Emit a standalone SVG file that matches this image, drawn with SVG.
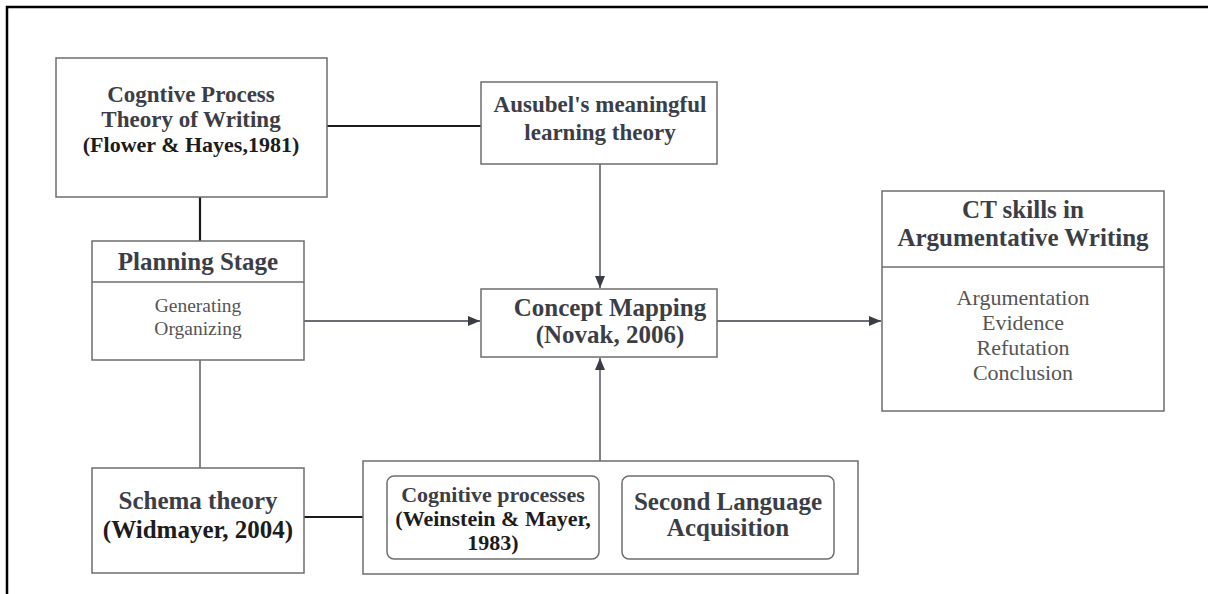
<svg xmlns="http://www.w3.org/2000/svg" width="1208" height="594" viewBox="0 0 1208 594">
<defs>
<style>
.box{fill:#fff;stroke:#6e6e6e;stroke-width:1.5}
.t{font-family:"Liberation Serif",serif;text-anchor:middle}
.h{font-weight:bold;fill:#3b3e46}
.k{font-weight:bold;fill:#1c1c1c}
.n{fill:#555}
.thick{stroke:#1a1a1a;stroke-width:2.2;fill:none}
.thin{stroke:#333;stroke-width:1.2;fill:none}
.arr{stroke:#3a3d45;stroke-width:1.3;fill:none;marker-end:url(#ah)}
</style>
<marker id="ah" viewBox="0 0 12 10" refX="12" refY="5" markerWidth="12" markerHeight="10" markerUnits="userSpaceOnUse" orient="auto">
<path d="M0,0 L12,5 L0,10 Z" fill="#3a3d45"/>
</marker>
</defs>
<rect width="1208" height="594" fill="#fff"/>
<path d="M7,594 V7 H1208" fill="none" stroke="#000" stroke-width="2.5"/>

<g id="connectors">
<line class="thick" x1="327" y1="126" x2="481" y2="126"/>
<line class="thick" x1="200" y1="197" x2="200" y2="241"/>
<line class="thin" x1="200" y1="360" x2="200" y2="468"/>
<line class="thick" x1="304" y1="517" x2="363" y2="517"/>
<line class="thick" x1="599" y1="516" x2="622" y2="516"/>
<line class="arr" x1="600" y1="164" x2="600" y2="288"/>
<line class="arr" x1="304" y1="321" x2="480" y2="321"/>
<line class="arr" x1="600" y1="461" x2="600" y2="358"/>
<line class="arr" x1="717" y1="321" x2="881" y2="321"/>
</g>

<g id="cognitive-process-theory">
<rect class="box" x="56" y="58" width="271" height="139"/>
<text class="t h" x="191" y="102" font-size="23">Cogntive Process</text>
<text class="t h" x="191" y="127" font-size="23">Theory of Writing</text>
<text class="t k" x="191" y="152" font-size="22">(Flower &amp; Hayes,1981)</text>
</g>

<g id="ausubel">
<rect class="box" x="481" y="82" width="236" height="82"/>
<text class="t h" x="600" y="112" font-size="23">Ausubel's meaningful</text>
<text class="t h" x="600" y="140" font-size="23">learning theory</text>
</g>

<g id="planning-stage">
<rect class="box" x="92" y="241" width="212" height="119"/>
<line x1="92" y1="282" x2="304" y2="282" stroke="#6e6e6e" stroke-width="1.5"/>
<text class="t h" x="198" y="270" font-size="25">Planning Stage</text>
<text class="t n" x="198" y="312" font-size="19.5">Generating</text>
<text class="t n" x="198" y="335" font-size="19.5">Organizing</text>
</g>

<g id="concept-mapping">
<rect class="box" x="481" y="289" width="236" height="68"/>
<text class="t h" x="610" y="316" font-size="25">Concept Mapping</text>
<text class="t h" x="610" y="343" font-size="25">(Novak, 2006)</text>
</g>

<g id="ct-skills">
<rect class="box" x="882" y="191" width="282" height="220"/>
<line x1="882" y1="267" x2="1164" y2="267" stroke="#6e6e6e" stroke-width="1.5"/>
<text class="t h" x="1023" y="218" font-size="25">CT skills in</text>
<text class="t h" x="1023" y="246" font-size="25">Argumentative Writing</text>
<text class="t n" x="1023" y="305" font-size="22">Argumentation</text>
<text class="t n" x="1023" y="330" font-size="22">Evidence</text>
<text class="t n" x="1023" y="355" font-size="22">Refutation</text>
<text class="t n" x="1023" y="380" font-size="22">Conclusion</text>
</g>

<g id="schema-theory">
<rect class="box" x="92" y="468" width="212" height="105"/>
<text class="t h" x="198" y="509" font-size="25">Schema theory</text>
<text class="t k" x="198" y="538" font-size="25">(Widmayer, 2004)</text>
</g>

<g id="group-box">
<rect class="box" x="363" y="461" width="495" height="113"/>
</g>

<g id="cognitive-processes">
<rect class="box" x="387" y="476" width="212" height="83" rx="7"/>
<text class="t h" x="493" y="502" font-size="22">Cognitive processes</text>
<text class="t k" x="493" y="526" font-size="22">(Weinstein &amp; Mayer,</text>
<text class="t k" x="493" y="550" font-size="22">1983)</text>
</g>

<g id="second-language">
<rect class="box" x="622" y="476" width="212" height="83" rx="7"/>
<text class="t h" x="728" y="510" font-size="25">Second Language</text>
<text class="t h" x="728" y="536" font-size="25">Acquisition</text>
</g>
</svg>
